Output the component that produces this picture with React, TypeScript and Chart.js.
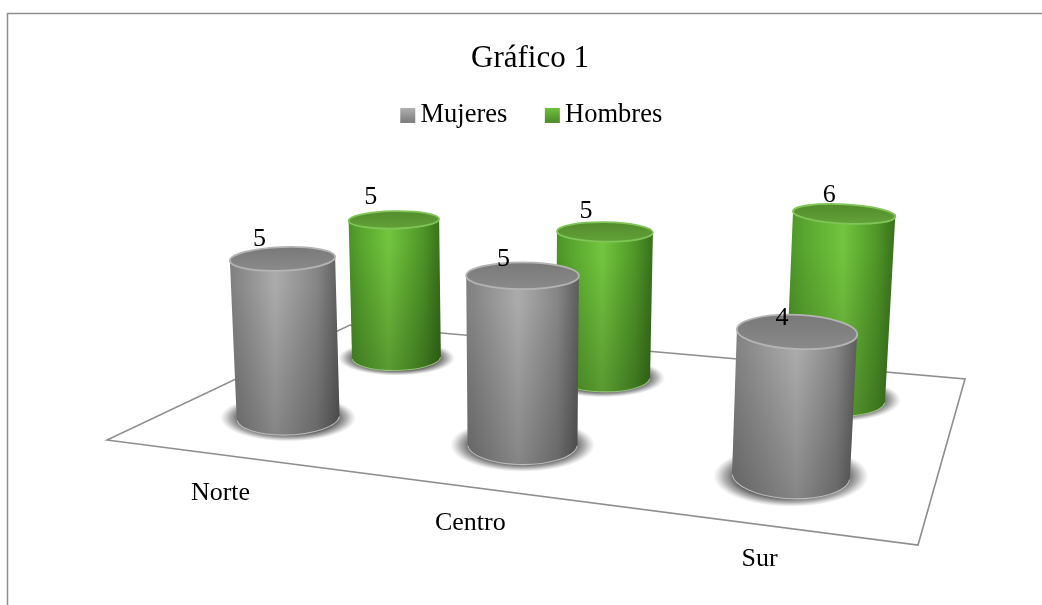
import React, { useEffect, useRef } from "react";
import { Chart, registerables } from "chart.js";

Chart.register(...registerables);

const chartTitle = "Gráfico 1";
const categories = ["Norte", "Centro", "Sur"];
const seriesNames = ["Mujeres", "Hombres"];
const mujeres = [5, 5, 4];
const hombres = [5, 5, 6];

const SERIF = "'Liberation Serif', 'Times New Roman', serif";

const FL = [107, 440];
const FR = [918, 545];
const BR = [965, 379];
const BL = [350, 325];
const LIFT = { p: -2.6, q: -34.5, r: -0.005 };
const RADIUS_K = 54;
const RADIUS_V = 0.13;

function makeProjector() {
  const dx1 = FR[0] - BR[0], dx2 = BL[0] - BR[0], sx = FL[0] - FR[0] + BR[0] - BL[0];
  const dy1 = FR[1] - BR[1], dy2 = BL[1] - BR[1], sy = FL[1] - FR[1] + BR[1] - BL[1];
  const det = dx1 * dy2 - dx2 * dy1;
  const g = (sx * dy2 - dx2 * sy) / det;
  const h = (dx1 * sy - sx * dy1) / det;
  const a = FR[0] - FL[0] + g * FR[0], b = BL[0] - FL[0] + h * BL[0], c = FL[0];
  const d = FR[1] - FL[1] + g * FR[1], e = BL[1] - FL[1] + h * BL[1], f = FL[1];
  return (u: number, v: number, z: number): [number, number, number] => {
    const w = 1 + g * u + h * v + LIFT.r * z;
    return [(a * u + b * v + c + LIFT.p * z) / w, (d * u + e * v + f + LIFT.q * z) / w, w];
  };
}
const project = makeProjector();

function disc(u: number, v: number, z: number) {
  const [cx, cy, w] = project(u, v, z);
  const rx = RADIUS_K / w;
  const ry = (project(u, v - RADIUS_V, z)[1] - project(u, v + RADIUS_V, z)[1]) / 2;
  const rot = (cx - 520) * 0.00016;
  return { cx, cy, rx, ry, rot };
}

const palettes = [
  {
    body: ["#7f7f7f", "#8c8c8c", "#9d9d9d", "#ababab", "#9a9a9a", "#858585", "#5c5c5c"],
    top: ["#797979", "#8a8a8a"],
    rim: "#b4b4b4",
    foot: "rgba(205,205,205,0.8)",
    swatch: ["#b0b0b0", "#7a7a7a"],
  },
  {
    body: ["#4b9127", "#58a42f", "#66b636", "#73c53f", "#62b033", "#4f9628", "#37701a"],
    top: ["#538c2c", "#62a138"],
    rim: "#80c558",
    foot: "rgba(160,215,130,0.8)",
    swatch: ["#6fc03c", "#4a8a28"],
  },
];

function cylinder(ctx: CanvasRenderingContext2D, u: number, v: number, z: number, pal: (typeof palettes)[0]) {
  const b = disc(u, v, 0);
  const t = disc(u, v, z);

  ctx.save();
  ctx.translate(b.cx, b.cy + 1);
  ctx.scale(b.rx * 1.32, b.ry * 1.3);
  const sh = ctx.createRadialGradient(0, 0, 0, 0, 0, 1);
  sh.addColorStop(0, "rgba(85,85,85,0.95)");
  sh.addColorStop(0.72, "rgba(85,85,85,0.95)");
  sh.addColorStop(0.86, "rgba(125,125,125,0.6)");
  sh.addColorStop(1, "rgba(160,160,160,0)");
  ctx.fillStyle = sh;
  ctx.beginPath();
  ctx.arc(0, 0, 1, 0, Math.PI * 2);
  ctx.fill();
  ctx.restore();

  const minX = Math.min(t.cx - t.rx, b.cx - b.rx), maxX = Math.max(t.cx + t.rx, b.cx + b.rx);
  const minY = t.cy - t.ry, maxY = b.cy + b.ry;

  const bodyPath = () => {
    ctx.beginPath();
    ctx.moveTo(t.cx - t.rx, t.cy);
    ctx.lineTo(t.cx + t.rx, t.cy);
    ctx.ellipse(b.cx, b.cy, b.rx, b.ry, b.rot, 0, Math.PI);
    ctx.closePath();
  };

  // the highlight moves with the position of the cylinder
  const peak = 0.46 + (t.cx - 520) * 0.0002;
  const stops = [0, 0.3 * peak, 0.68 * peak, peak, peak + 0.3 * (1 - peak), peak + 0.65 * (1 - peak), 1];
  const grad = ctx.createLinearGradient(minX, 0, maxX, 0);
  pal.body.forEach((col, i) => grad.addColorStop(stops[i], col));
  bodyPath();
  ctx.fillStyle = grad;
  ctx.fill();
  const fade = ctx.createLinearGradient(0, minY, 0, maxY);
  fade.addColorStop(0, "rgba(0,0,0,0)");
  fade.addColorStop(0.2, "rgba(0,0,0,0)");
  fade.addColorStop(1, "rgba(0,0,0,0.22)");
  ctx.fillStyle = fade;
  ctx.fill();

  ctx.strokeStyle = pal.foot;
  ctx.lineWidth = 1.1;
  ctx.beginPath();
  ctx.ellipse(b.cx, b.cy, b.rx, b.ry, b.rot, 0.08, Math.PI - 0.08);
  ctx.stroke();

  const lid = ctx.createLinearGradient(0, t.cy - t.ry, 0, t.cy + t.ry);
  lid.addColorStop(0, pal.top[0]);
  lid.addColorStop(1, pal.top[1]);
  ctx.beginPath();
  ctx.ellipse(t.cx, t.cy, t.rx, t.ry, t.rot, 0, Math.PI * 2);
  ctx.fillStyle = lid;
  ctx.fill();
  ctx.strokeStyle = pal.rim;
  ctx.lineWidth = 1.8;
  ctx.stroke();
}

const cylinderPlugin = {
  id: "cylinders",
  beforeDatasetsDraw(chart: any) {
    const { ctx, scales } = chart;
    const xs = scales.x, ys = scales.y;
    const baseU = (i: number) => (xs.getPixelForValue(i) - xs.left) / xs.width;
    const uOf = (i: number) => baseU(i) * 1.008;
    const vOf = (di: number) => (di + 0.5) / chart.data.datasets.length;
    const zOf = (val: number) => ((ys.getPixelForValue(0) - ys.getPixelForValue(val)) / ys.height) * ys.max;

    ctx.save();
    ctx.strokeStyle = "#8f8f8f";
    ctx.lineWidth = 1.5;
    ctx.beginPath();
    ctx.moveTo(7.5, 606);
    ctx.lineTo(7.5, 13.5);
    ctx.lineTo(1043, 13.5);
    ctx.stroke();

    ctx.strokeStyle = "#8e8e8e";
    ctx.lineWidth = 1.6;
    ctx.lineJoin = "miter";
    ctx.beginPath();
    [project(0, 0, 0), project(1, 0, 0), project(1, 1, 0), project(0, 1, 0)].forEach((q, i) =>
      i ? ctx.lineTo(q[0], q[1]) : ctx.moveTo(q[0], q[1])
    );
    ctx.closePath();
    ctx.stroke();

    for (let di = chart.data.datasets.length - 1; di >= 0; di--) {
      const ds = chart.data.datasets[di];
      ds.data.forEach((val: number, i: number) => {
        cylinder(ctx, uOf(i), vOf(di), zOf(val), palettes[di]);
      });
    }

    ctx.fillStyle = "#000";
    ctx.font = `26px ${SERIF}`;
    ctx.textAlign = "center";
    ctx.textBaseline = "middle";
    chart.data.datasets.forEach((ds: any, di: number) => {
      ds.data.forEach((val: number, i: number) => {
        const u = baseU(i);
        const q = project(uOf(i), vOf(di), zOf(val));
        const oy = -20 + (di === 0 ? 9 * u - 1.5 : 6 * u - 4);
        ctx.fillText(String(val), q[0] - 25 + 12 * u, q[1] + oy);
      });
    });

    chart.data.labels.forEach((lab: string, i: number) => {
      const u = baseU(i);
      const q = project(u, 0, 0);
      ctx.fillText(lab, q[0] + 1 + 3 * u, q[1] + 39 - 4.5 * u);
    });
    ctx.restore();
  },
  afterDraw(chart: any) {
    const { ctx, legend } = chart;
    if (!legend || !legend.legendHitBoxes) return;
    ctx.save();
    legend.legendHitBoxes.forEach((box: any, i: number) => {
      const size = 15;
      const top = box.top + box.height / 2 - size / 2;
      const g = ctx.createLinearGradient(0, top, 0, top + size);
      g.addColorStop(0, palettes[i].swatch[0]);
      g.addColorStop(1, palettes[i].swatch[1]);
      ctx.fillStyle = g;
      ctx.fillRect(box.left + 2.5, top, size, size);
    });
    ctx.restore();
  },
};

export default function App() {
  const ref = useRef<HTMLCanvasElement | null>(null);
  useEffect(() => {
    if (!ref.current) return;
    const chart = new Chart(ref.current, {
      type: "bar",
      data: {
        labels: categories,
        datasets: [
          { label: seriesNames[0], data: mujeres, backgroundColor: "rgba(0,0,0,0)" },
          { label: seriesNames[1], data: hombres, backgroundColor: "rgba(0,0,0,0)" },
        ],
      },
      plugins: [cylinderPlugin],
      options: {
        responsive: false,
        animation: false,
        layout: { padding: { top: 40, left: 18, right: 0, bottom: 0 } },
        scales: {
          x: { display: false },
          y: { display: false, min: 0, max: 7 },
        },
        plugins: {
          tooltip: { enabled: false },
          title: {
            display: true,
            text: chartTitle,
            color: "#000",
            font: { family: SERIF, size: 31, weight: "normal" },
            padding: { top: 0, bottom: -10 },
          },
          legend: {
            display: true,
            position: "top",
            labels: {
              color: "#000",
              font: { family: SERIF, size: 26.5 },
              boxWidth: 9.5,
              boxHeight: 8,
              padding: 35,
              generateLabels: (c: any) =>
                c.data.datasets.map((ds: any, i: number) => ({
                  text: ds.label,
                  fillStyle: "rgba(0,0,0,0)",
                  strokeStyle: "rgba(0,0,0,0)",
                  lineWidth: 0,
                  datasetIndex: i,
                  fontColor: "#000",
                })),
            },
          },
        },
      },
    } as any);
    return () => chart.destroy();
  }, []);
  return (
    <div style={{ position: "fixed", left: 0, top: 0, width: 1042, height: 605, background: "#fff", overflow: "hidden" }}>
      <canvas ref={ref} width={1042} height={605} style={{ display: "block" }} />
    </div>
  );
}
